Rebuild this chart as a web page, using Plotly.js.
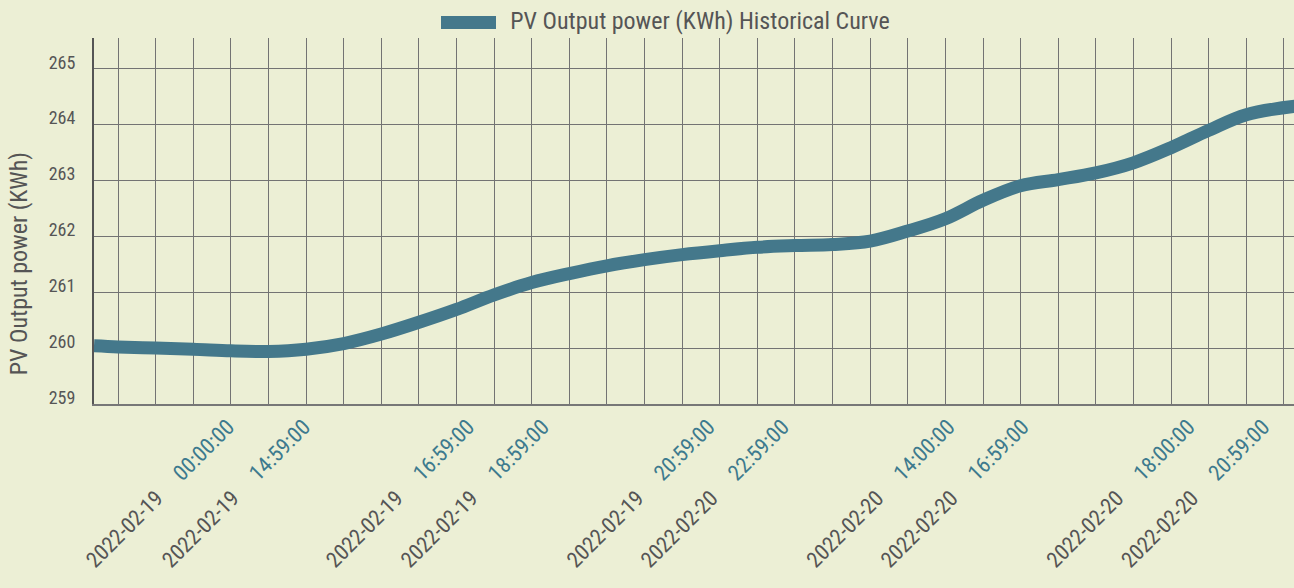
<!DOCTYPE html>
<html>
<head>
<meta charset="utf-8">
<script src="https://cdn.plot.ly/plotly-3.0.1.min.js"></script>
<style>
html,body{margin:0;padding:0;background:#ecefd5;}
#chart{width:1294px;height:588px;}
#chart text{font-stretch:condensed !important;}
</style>
</head>
<body>
<div id="chart"></div>
<script>
// sample positions (index along the time axis) and readings
var sampleX = [-0.64, 0, 1, 2, 3, 4, 5, 6, 7, 8, 9, 10, 11, 12, 13, 14, 15, 16, 17, 18, 19, 20, 21, 22, 23, 24, 25, 26, 27, 28, 29, 30, 31.3];
var pvOutput = [260.04, 260.02, 260.00, 259.98, 259.95, 259.94, 259.98, 260.08, 260.25, 260.46, 260.69, 260.95, 261.17, 261.33, 261.47, 261.58, 261.67, 261.74, 261.80, 261.83, 261.85, 261.91, 262.09, 262.31, 262.64, 262.90, 263.01, 263.13, 263.31, 263.58, 263.89, 264.17, 264.32];

// labelled time stamps on the x axis
var labelX = [2.92, 4.94, 9.30, 11.29, 15.70, 17.67, 22.08, 24.05, 28.46, 30.45];
var labelDates = ["2022-02-19", "2022-02-19", "2022-02-19", "2022-02-19", "2022-02-19", "2022-02-20", "2022-02-20", "2022-02-20", "2022-02-20", "2022-02-20"];
var labelTimes = ["00:00:00", "14:59:00", "16:59:00", "18:59:00", "20:59:00", "22:59:00", "14:00:00", "16:59:00", "18:00:00", "20:59:00"];

var seriesName = "PV Output power (KWh) Historical Curve";
var yTitle = "PV Output power (KWh)";

var GRAY = "#555555";
var TEAL = "#44788b";
var FONT = "Roboto, sans-serif";
var gap = "\u00a0\u00a0\u00a0\u00a0\u00a0";

var tickText = labelDates.map(function (d, i) {
  return '<span style="color:' + GRAY + '">' + d + '</span>' + gap +
         '<span style="color:#3d7a8e">' + labelTimes[i] + '</span>';
});

var trace = {
  x: sampleX,
  y: pvOutput,
  type: "scatter",
  mode: "lines",
  name: seriesName,
  line: {color: TEAL, width: 13, shape: "spline", smoothing: 1},
  showlegend: false,
  hoverinfo: "x+y"
};

function px2paperX(px) { return (px - 94) / 1200; }
function px2paperY(py) { return (404 - py) / 366; }

var layout = {
  width: 1294,
  height: 588,
  paper_bgcolor: "#ecefd5",
  plot_bgcolor: "#ecefd5",
  margin: {l: 94, r: 0, t: 38, b: 184, pad: 0},
  font: {family: FONT, color: GRAY},
  xaxis: {
    range: [-0.64, 31.27],
    tickmode: "array",
    tickvals: labelX,
    ticktext: tickText,
    tickangle: -45,
    tickfont: {family: FONT, size: 22, color: GRAY},
    showgrid: false,
    zeroline: false,
    showline: true,
    linecolor: "#777777",
    linewidth: 1.5,
    ticks: "",
    minor: {tickmode: "linear", tick0: 0, dtick: 1, showgrid: true, gridcolor: "#737373", gridwidth: 1, ticks: ""}
  },
  yaxis: {
    range: [259, 265.54],
    tickmode: "linear",
    tick0: 259,
    dtick: 1,
    tickfont: {family: FONT, size: 18, color: GRAY},
    showgrid: true,
    gridcolor: "#737373",
    gridwidth: 1,
    zeroline: false,
    showline: true,
    linecolor: "#555555",
    linewidth: 2,
    ticks: "",
    ticklabelstandoff: 13,
    ticklabelshift: -6
  },
  shapes: [{
    type: "rect", xref: "paper", yref: "paper",
    x0: px2paperX(441), x1: px2paperX(496), y0: px2paperY(29), y1: px2paperY(16),
    fillcolor: TEAL, line: {width: 0}
  }],
  annotations: [{
    xref: "paper", yref: "paper",
    x: px2paperX(700), y: px2paperY(21), xanchor: "center", yanchor: "middle",
    text: seriesName, showarrow: false,
    font: {family: FONT, size: 24, color: GRAY}
  }, {
    xref: "paper", yref: "paper",
    x: px2paperX(19), y: px2paperY(264), xanchor: "center", yanchor: "middle",
    text: yTitle, textangle: -90, showarrow: false,
    font: {family: FONT, size: 24, color: GRAY}
  }]
};

Plotly.newPlot("chart", [trace], layout, {displayModeBar: false, staticPlot: true});
</script>
</body>
</html>
